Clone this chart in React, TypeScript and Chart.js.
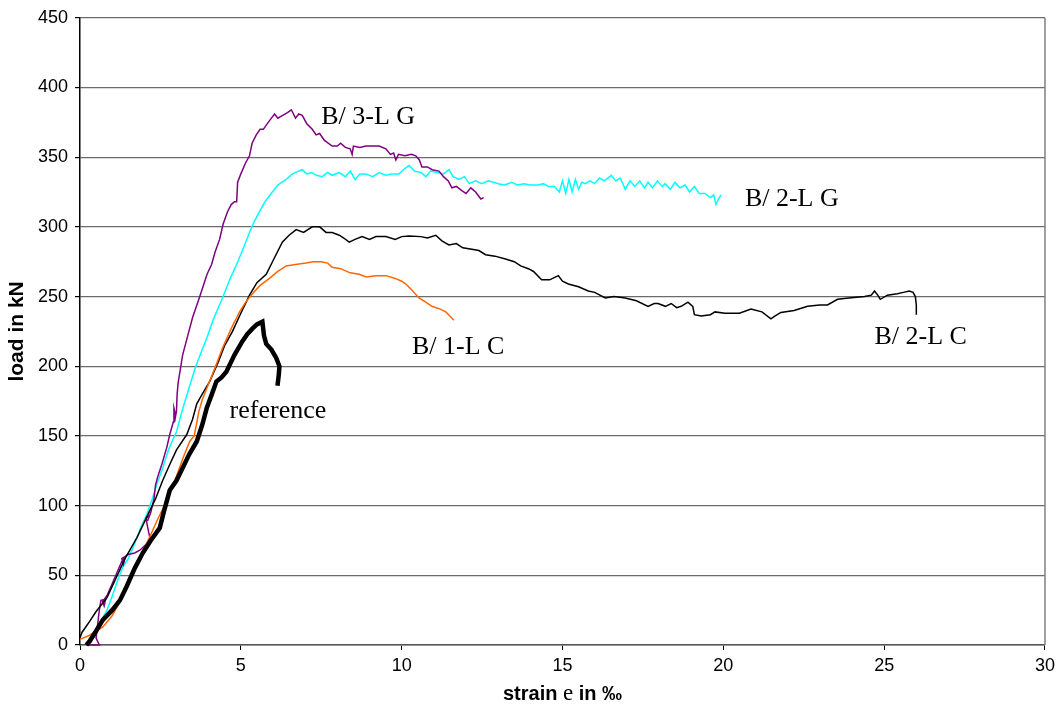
import React, { useEffect, useRef } from "react";
import { Chart, registerables } from "chart.js";

Chart.register(...registerables);

// Axis settings
const xMin = 0;
const xMax = 30;
const xStep = 5;
const yMin = 0;
const yMax = 450;
const yStep = 50;
const xTitleParts = ["strain ", "e", " in ‰"];
const yTitle = "load in kN";

// Series: [strain ‰, load kN]
const reference: [number, number][] = [
  [0.2, 0], [0.31, 3], [0.5, 10], [0.71, 18], [1.0, 25], [1.24, 32], [1.45, 42], [1.7, 55],
  [1.95, 66], [2.2, 75], [2.48, 84], [2.6, 95], [2.79, 111], [3.0, 118], [3.19, 127], [3.4, 137],
  [3.63, 146], [3.8, 158], [3.94, 170], [4.1, 180], [4.24, 189], [4.4, 192], [4.55, 196], [4.8, 208],
  [5.05, 218], [5.2, 223], [5.36, 227], [5.5, 230], [5.67, 232], [5.72, 222], [5.79, 216], [5.95, 212],
  [6.1, 206], [6.2, 200], [6.18, 194], [6.14, 186],
];

const b1LC: [number, number][] = [
  [0, 4], [0.3, 7], [0.71, 13], [1.0, 21], [1.24, 31], [1.5, 44], [1.77, 59], [2.1, 74], [2.39, 89],
  [2.6, 99], [2.79, 109], [3.0, 121], [3.2, 134], [3.41, 146], [3.55, 150], [3.7, 168], [3.8, 176],
  [3.94, 184], [4.2, 199], [4.43, 213], [4.7, 227], [4.96, 239], [5.15, 246], [5.36, 252], [5.6, 258],
  [5.89, 263], [6.15, 268], [6.41, 272], [6.7, 273], [7.03, 274], [7.25, 275], [7.5, 275], [7.7, 274],
  [7.84, 271], [8.1, 270], [8.4, 267], [8.68, 266], [8.9, 264], [9.2, 265], [9.51, 265], [9.8, 263],
  [10.0, 261], [10.13, 259], [10.3, 255], [10.54, 249], [10.75, 246], [10.94, 243], [11.2, 241],
  [11.37, 239], [11.5, 236], [11.62, 233],
];

const b2LC: [number, number][] = [
  [0, 5], [0.06, 9], [0.3, 17], [0.5, 24], [0.84, 34], [1.1, 47], [1.4, 62], [1.77, 77], [2.1, 93],
  [2.35, 105], [2.57, 118], [2.8, 130], [3.0, 140], [3.32, 151], [3.5, 162], [3.63, 173], [3.8, 180],
  [4.03, 189], [4.3, 203], [4.5, 215], [4.74, 225], [5.0, 238], [5.27, 251], [5.5, 260], [5.79, 266],
  [6.05, 278], [6.29, 289], [6.5, 294], [6.72, 298], [6.95, 296], [7.22, 300], [7.45, 300], [7.65, 296],
  [7.84, 296], [8.06, 294], [8.2, 292], [8.37, 289], [8.55, 291], [8.77, 293], [9.0, 291], [9.2, 293],
  [9.51, 293], [9.8, 291], [10.0, 293], [10.23, 293.5], [10.6, 293], [10.8, 292], [11.06, 294],
  [11.25, 290], [11.47, 287], [11.7, 288], [11.9, 285], [12.18, 284], [12.4, 283], [12.61, 280],
  [12.9, 279], [13.23, 277], [13.5, 275], [13.7, 272], [13.94, 270], [14.1, 268], [14.35, 262],
  [14.6, 262], [14.87, 265], [15.0, 261], [15.18, 259], [15.5, 257], [15.8, 254], [16.0, 253],
  [16.33, 249], [16.6, 250], [16.95, 249], [17.3, 247], [17.66, 243], [17.85, 245], [17.97, 245],
  [18.2, 243], [18.38, 245], [18.55, 242], [18.69, 243], [18.9, 246], [19.05, 243], [19.1, 237],
  [19.31, 236], [19.6, 237], [19.74, 239], [20.05, 238], [20.5, 238], [20.86, 241], [21.2, 239],
  [21.48, 234], [21.6, 236], [21.79, 238.6], [22.2, 240], [22.62, 243], [23.0, 244], [23.24, 244],
  [23.55, 248], [23.9, 249], [24.39, 250], [24.6, 251], [24.7, 254], [24.8, 251], [24.88, 248],
  [25.1, 251], [25.41, 252], [25.6, 253], [25.78, 254], [25.9, 253], [25.97, 250], [26.0, 244],
  [26.0, 237],
];

const b3LG: [number, number][] = [
  [0.2, 0], [0.6, 0], [0.5, 5], [0.55, 15], [0.6, 25], [0.65, 32], [0.8, 33], [0.75, 28], [0.7, 31],
  [0.85, 36], [1.0, 44], [1.15, 52], [1.3, 60], [1.4, 63], [1.35, 58], [1.3, 62], [1.5, 65], [1.7, 66],
  [1.86, 68], [2.05, 72], [2.17, 77], [2.1, 85], [2.05, 91], [2.15, 93], [2.1, 89], [2.2, 95],
  [2.3, 105], [2.35, 115], [2.42, 121], [2.55, 130], [2.7, 142], [2.79, 151], [2.9, 160], [2.92, 170],
  [2.97, 165], [2.94, 160], [3.0, 168], [3.02, 180], [3.05, 188], [3.1, 195], [3.19, 208], [3.35, 222],
  [3.5, 235], [3.65, 245], [3.78, 254], [3.95, 266], [4.09, 273], [4.2, 282], [4.34, 291], [4.45, 302],
  [4.59, 311], [4.7, 316], [4.8, 318], [4.87, 318], [4.9, 332], [5.0, 338], [5.15, 346], [5.27, 351],
  [5.35, 360], [5.48, 366], [5.6, 370], [5.7, 370], [5.79, 373], [5.95, 378], [6.05, 381], [6.15, 378],
  [6.3, 380], [6.45, 382], [6.57, 384], [6.7, 378], [6.8, 381], [6.91, 380], [7.05, 374], [7.22, 370],
  [7.34, 366], [7.45, 367], [7.6, 362], [7.84, 358], [8.0, 358], [8.1, 360], [8.25, 357], [8.4, 356],
  [8.46, 352], [8.5, 358], [8.7, 357], [8.89, 358], [9.1, 358], [9.3, 358], [9.51, 356], [9.65, 352],
  [9.75, 353], [9.82, 348], [9.9, 352], [10.1, 351], [10.3, 352], [10.44, 351], [10.55, 348],
  [10.63, 343], [10.8, 343], [10.95, 341], [11.16, 340], [11.3, 336], [11.45, 333], [11.56, 328],
  [11.7, 329], [11.87, 326], [12.0, 324], [12.15, 328], [12.3, 325], [12.46, 320], [12.55, 321],
];

const b2LG: [number, number][] = [
  [0.3, 0], [0.45, 8], [0.6, 15], [0.84, 25], [1.0, 35], [1.15, 45], [1.33, 56], [1.5, 62], [1.65, 70],
  [1.77, 77], [1.9, 85], [2.08, 94], [2.25, 105], [2.4, 116], [2.57, 127], [2.75, 140], [2.9, 148],
  [3.0, 153], [3.2, 170], [3.41, 186], [3.6, 200], [3.8, 212], [3.94, 220], [4.15, 234], [4.3, 242],
  [4.43, 249], [4.65, 262], [4.87, 273], [5.05, 283], [5.27, 296], [5.4, 303], [5.58, 311], [5.75, 318],
  [5.98, 325], [6.15, 330], [6.41, 334], [6.6, 338], [6.8, 340], [6.91, 341], [7.05, 338], [7.2, 339],
  [7.35, 337], [7.53, 336], [7.7, 339], [7.84, 337], [8.06, 339], [8.25, 336], [8.4, 340], [8.55, 334],
  [8.7, 338], [8.89, 338], [9.1, 336], [9.3, 339], [9.5, 337], [9.7, 338], [9.92, 338], [10.05, 341],
  [10.23, 344], [10.4, 340], [10.6, 339], [10.75, 336], [10.9, 340], [11.1, 339], [11.3, 338],
  [11.47, 341], [11.6, 336], [11.78, 334], [11.95, 336], [12.1, 331], [12.3, 333], [12.49, 331],
  [12.7, 333], [13.0, 331], [13.2, 330], [13.42, 332], [13.6, 330], [13.8, 331], [14.0, 330],
  [14.25, 330], [14.4, 331], [14.57, 329], [14.75, 329], [14.9, 325], [15.0, 333], [15.1, 324],
  [15.2, 334], [15.3, 325], [15.4, 334], [15.5, 327], [15.6, 332], [15.71, 331], [15.85, 333],
  [16.0, 331], [16.15, 335], [16.3, 333], [16.52, 337], [16.65, 333], [16.8, 335], [16.95, 327],
  [17.1, 333], [17.25, 329], [17.4, 333], [17.55, 328], [17.66, 332], [17.8, 328], [17.95, 333],
  [18.1, 329], [18.19, 331], [18.35, 327], [18.5, 332], [18.65, 328], [18.81, 330], [18.95, 325],
  [19.1, 329], [19.25, 324], [19.43, 324], [19.6, 321], [19.7, 323], [19.77, 316], [19.85, 320],
  [19.93, 323],
];

// Series order: first is drawn on top
const seriesNames = ["reference", "B/ 1-L C", "B/ 2-L C", "B/ 3-L G", "B/ 2-L G"];
const seriesData = [reference, b1LC, b2LC, b3LG, b2LG];
const seriesColors = ["#000000", "#FF6600", "#000000", "#800080", "#00FFFF"];
const seriesWidths = [4.5, 1.5, 1.5, 1.5, 1.5];

// Curve labels placed at data coordinates (left edge, vertical middle)
const labelTexts = ["B/ 3-L G", "B/ 2-L G", "B/ 1-L C", "B/ 2-L C", "reference"];
const labelStrain = [7.5, 20.67, 10.32, 24.7, 4.65];
const labelLoad = [378.6, 320, 214, 221, 168];

const tickFont = "'Liberation Sans', Arial, sans-serif";
const serifFont = "'Liberation Serif', 'Times New Roman', serif";

const overlayPlugin = {
  id: "overlay",
  afterDraw(chart: any) {
    const { ctx, chartArea, scales } = chart;
    const xs = scales.x;
    const ys = scales.y;
    ctx.save();
    // right border of plot frame
    ctx.strokeStyle = "#808080";
    ctx.lineWidth = 1.5;
    ctx.beginPath();
    ctx.moveTo(chartArea.right, chartArea.top);
    ctx.lineTo(chartArea.right, chartArea.bottom);
    ctx.stroke();

    // curve labels
    ctx.fillStyle = "#000";
    ctx.font = `26px ${serifFont}`;
    ctx.textBaseline = "middle";
    ctx.textAlign = "left";
    labelTexts.forEach((t, i) => {
      ctx.fillText(t, xs.getPixelForValue(labelStrain[i]), ys.getPixelForValue(labelLoad[i]));
    });

    // x axis title with mixed fonts
    const fonts = [`bold 20px ${tickFont}`, `23px ${serifFont}`, `bold 20px ${tickFont}`];
    const widths = xTitleParts.map((p, i) => {
      ctx.font = fonts[i];
      return ctx.measureText(p).width;
    });
    const total = widths.reduce((a, b) => a + b, 0);
    let x = (chartArea.left + chartArea.right) / 2 - total / 2;
    const y = 694;
    ctx.textBaseline = "middle";
    xTitleParts.forEach((p, i) => {
      ctx.font = fonts[i];
      ctx.fillText(p, x, y);
      x += widths[i];
    });
    ctx.restore();
  },
};

export default function App() {
  const canvasRef = useRef<HTMLCanvasElement | null>(null);

  useEffect(() => {
    if (!canvasRef.current) return;
    const chart = new Chart(canvasRef.current, {
      type: "scatter",
      data: {
        datasets: seriesData.map((d, i) => ({
          label: seriesNames[i],
          data: d.map(([x, y]) => ({ x, y })),
          showLine: true,
          borderColor: seriesColors[i],
          backgroundColor: seriesColors[i],
          borderWidth: seriesWidths[i],
          pointRadius: 0,
          tension: 0,
          fill: false,
          clip: 4,
        })),
      },
      options: {
        responsive: false,
        animation: false,
        devicePixelRatio: 1,
        layout: { padding: { top: 15, right: 12, left: 0, bottom: 0 } },
        plugins: {
          legend: { display: false },
          tooltip: { enabled: false },
        },
        scales: {
          x: {
            type: "linear",
            min: xMin,
            max: xMax,
            afterFit: (scale: any) => {
              scale.height = 64;
            },
            ticks: {
              stepSize: xStep,
              color: "#000",
              padding: 5,
              font: { family: tickFont, size: 18 },
              maxRotation: 0,
            },
            grid: {
              drawOnChartArea: false,
              drawTicks: true,
              tickLength: 5,
              tickColor: "#000",
            },
            border: { display: true, color: "#555", width: 1.5 },
            title: { display: false },
          },
          y: {
            type: "linear",
            min: yMin,
            max: yMax,
            afterFit: (scale: any) => {
              scale.width = 80;
            },
            ticks: {
              stepSize: yStep,
              color: "#000",
              padding: 7,
              font: { family: tickFont, size: 18 },
            },
            grid: {
              color: "#6b6b6b",
              lineWidth: 1.2,
              drawTicks: true,
              tickLength: 5,
              tickColor: "#000",
            },
            border: { display: true, color: "#000", width: 1.5 },
            title: {
              display: true,
              text: yTitle,
              color: "#000",
              font: { family: tickFont, size: 21, weight: "bold" },
              padding: { top: 5, bottom: 4 },
            },
          },
        },
      },
      plugins: [overlayPlugin],
    } as any);
    return () => chart.destroy();
  }, []);

  return (
    <canvas
      ref={canvasRef}
      width={1060}
      height={709}
      style={{ position: "absolute", left: 0, top: 0, display: "block", background: "#fff" }}
    />
  );
}
